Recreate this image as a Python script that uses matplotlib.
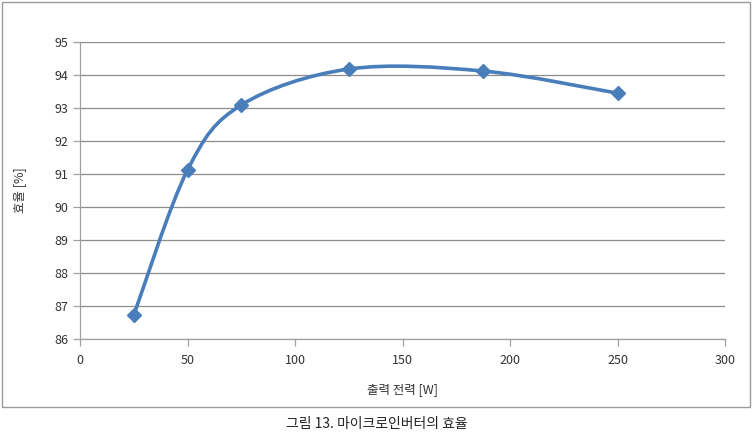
import matplotlib
matplotlib.use("Agg")
import matplotlib.pyplot as plt
import numpy as np
from matplotlib.path import Path
from matplotlib.patches import PathPatch, Rectangle

plt.rcParams['font.family'] = ['Noto Sans CJK KR', 'DejaVu Sans']

power_w = [25, 50, 75, 125, 187.5, 250]
efficiency = [86.72, 91.12, 93.09, 94.18, 94.12, 93.45]
x_ticks = [0, 50, 100, 150, 200, 250, 300]
y_ticks = [86, 87, 88, 89, 90, 91, 92, 93, 94, 95]

line_color = "#4a7ebb"
grid_color = "#8c8c8c"


def smooth_path(x, y):
    # Excel-style smoothed line: cubic Bezier segments through every point
    pts = np.column_stack([x, y]).astype(float)
    ext = np.vstack([pts[0], pts, pts[-1]])
    verts = [pts[0]]
    codes = [Path.MOVETO]
    for i in range(len(pts) - 1):
        p0, p1, p2, p3 = ext[i], ext[i + 1], ext[i + 2], ext[i + 3]
        c1 = p1 + (p2 - p0) / 6.0
        c2 = p2 - (p3 - p1) / 6.0
        verts += [c1, c2, p2]
        codes += [Path.CURVE4] * 3
    return Path(verts, codes)


fig = plt.figure(figsize=(7.53, 4.37), dpi=100)
ax = fig.add_axes([80 / 753, 98 / 437, 645 / 753, 297 / 437])

# outer chart frame
fig.patches.append(Rectangle((2 / 753, 30 / 437), 748 / 753, 405 / 437,
                             transform=fig.transFigure, fill=False,
                             edgecolor="#9a9a9a", linewidth=1.0))

ax.add_patch(PathPatch(smooth_path(power_w, efficiency), fill=False,
                       edgecolor=line_color, linewidth=2.6, zorder=3,
                       capstyle="round", joinstyle="round"))
ax.plot(power_w, efficiency, linestyle="none", marker="D", markersize=7.5,
        color=line_color, zorder=4)

ax.set_xlim(0, 300)
ax.set_ylim(86, 95)
ax.set_xticks(x_ticks)
ax.set_yticks(y_ticks)
ax.grid(axis="y", color=grid_color, linewidth=0.9)
ax.set_axisbelow(True)

for side in ("top", "right"):
    ax.spines[side].set_visible(False)
for side in ("left", "bottom"):
    ax.spines[side].set_color("#a0a0a0")
    ax.spines[side].set_linewidth(0.9)

ax.tick_params(axis="both", labelsize=9, colors="#a0a0a0", labelcolor="#333333",
               length=5, width=0.9)
ax.tick_params(axis="x", pad=6)

ax.set_xlabel("출력 전력 [W]", fontsize=9, color="#333333", labelpad=11)
ax.set_ylabel("효율 [%]", fontsize=9, color="#333333", labelpad=20)

fig.text(377 / 753, 1 - 424 / 437, "그림 13. 마이크로인버터의 효율",
         ha="center", va="center", fontsize=10, color="#222222")

fig.savefig("out.png", dpi=100)
